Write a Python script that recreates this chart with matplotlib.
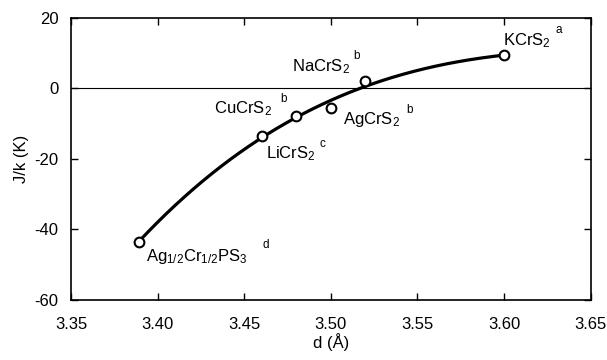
import matplotlib.pyplot as plt
import numpy as np

plt.rcParams['font.family'] = ['Liberation Sans', 'DejaVu Sans']
plt.rcParams['mathtext.fontset'] = 'custom'
plt.rcParams['mathtext.rm'] = 'Liberation Sans'
plt.rcParams['mathtext.it'] = 'Liberation Sans:italic'
plt.rcParams['axes.unicode_minus'] = False

# interlayer distance d (Å) and exchange constant J/k (K)
d = [3.389, 3.460, 3.480, 3.500, 3.520, 3.600]
jk = [-43.6, -13.5, -7.9, -5.7, 2.0, 9.3]
names = [r'Ag$_{1/2}$Cr$_{1/2}$PS$_3$', r'LiCrS$_2$', r'CuCrS$_2$',
         r'AgCrS$_2$', r'NaCrS$_2$', r'KCrS$_2$']
refs = ['d', 'c', 'b', 'b', 'b', 'a']
name_pos = [(3.3931, -49.0), (3.4625, -19.9), (3.4328, -7.1),
            (3.5069, -10.0), (3.4776, 4.9), (3.5994, 12.2)]
ref_pos = [(3.4603, -45.4), (3.4935, -16.6), (3.4711, -3.85),
           (3.5437, -7.0), (3.5132, 8.4), (3.6299, 15.6)]

fig = plt.figure(figsize=(6.07, 3.6), dpi=100)
ax = fig.add_axes([0.117, 0.1667, 0.856, 0.7843])

# smooth trend through the compounds
coef = np.polyfit(d, jk, 3)
xs = np.linspace(min(d), max(d), 200)
ax.plot(xs, np.polyval(coef, xs), color='black', lw=2.3, zorder=2)
ax.plot(d, jk, 'o', mfc='white', mec='black', ms=7, mew=1.5, zorder=3)
ax.axhline(0, color='black', lw=0.8, zorder=1)

for nm, (tx, ty) in zip(names, name_pos):
    ax.text(tx, ty, nm, fontsize=12, va='baseline', ha='left')
for rf, (tx, ty) in zip(refs, ref_pos):
    ax.text(tx, ty, rf, fontsize=8.5, va='baseline', ha='left')

ax.set_xlim(3.35, 3.65)
ax.set_ylim(-60, 20)
ax.set_xticks(np.arange(3.35, 3.651, 0.05))
ax.set_xticklabels(['3.35', '3.40', '3.45', '3.50', '3.55', '3.60', '3.65'])
ax.set_yticks([-60, -40, -20, 0, 20])
ax.set_yticklabels(['-60', '-40', '-20', '0', '20'])
ax.tick_params(direction='in', top=True, right=True, length=5, width=1,
               labelsize=12)
ax.tick_params(axis='x', pad=12)
ax.tick_params(axis='y', pad=9)
for s in ax.spines.values():
    s.set_linewidth(1.2)
ax.set_xlabel('d (Å)', fontsize=12, labelpad=1)
ax.set_ylabel('J/k (K)', fontsize=12, labelpad=4)

fig.savefig('out.png', dpi=100)
